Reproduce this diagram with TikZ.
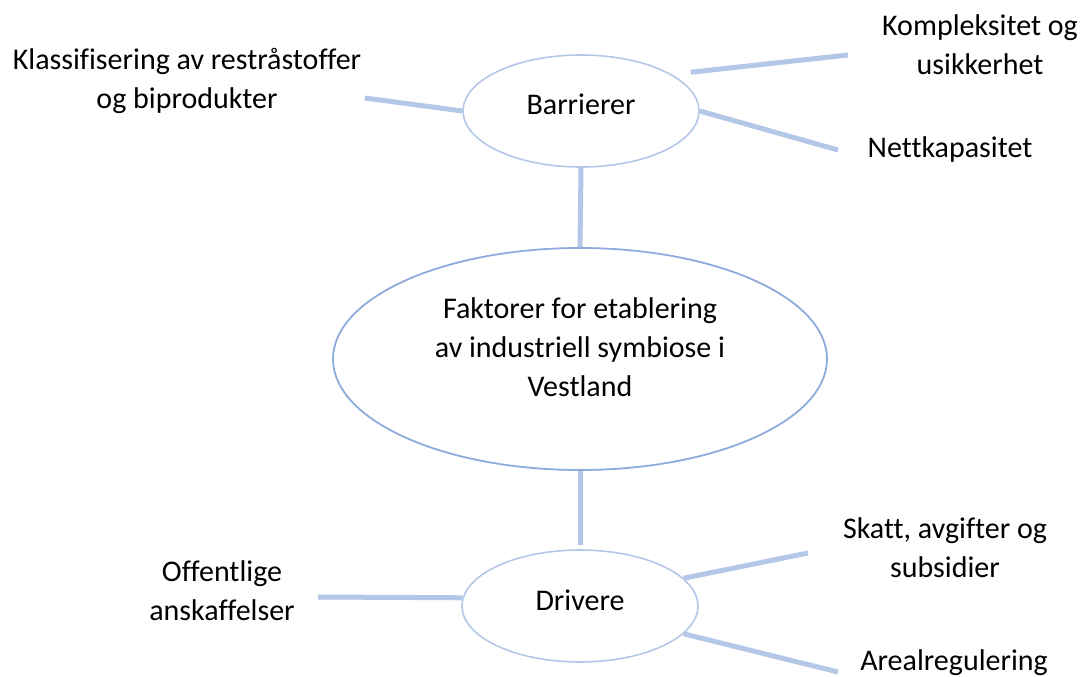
\documentclass[tikz,border=0pt]{standalone}
\usepackage{fontspec}
\setmainfont{Carlito}[Ligatures=NoCommon]
\usepackage{xcolor}
\usetikzlibrary{shapes.geometric}

\definecolor{lightblue}{HTML}{B4C7E7}
\definecolor{midblue}{HTML}{8FAADC}

\begin{document}
\begin{tikzpicture}[
 x=1pt, y=-1pt,
 every node/.style={font=\fontsize{30}{39}\selectfont},
 small_oval/.style={ellipse, draw=lightblue, line width=1.6pt,
   minimum width=236pt, minimum height=112pt, inner sep=0pt},
 big_oval/.style={ellipse, draw=midblue, line width=1.8pt,
   minimum width=494pt, minimum height=222pt, inner sep=0pt},
 label_text/.style={align=center, inner sep=0pt},
 link/.style={draw=lightblue, line width=5pt}
]
\useasboundingbox (0,0) rectangle (1084,677);

% ovals
\node[big_oval] (factors) at (580,359) {};
\node[small_oval] (barriers) at (581,111) {};
\node[small_oval] (drivers) at (580,606) {};
\node[label_text] (factors_text) at (580,347) {Faktorer for etablering\\av industriell symbiose i\\Vestland};
\node[label_text] (barriers_text) at (581,104) {Barrierer};
\node[label_text] (drivers_text) at (580,600) {Drivere};

% texts round the ovals
\node[label_text] (classify) at (187,81) {Klassifisering av restråstoffer\\og biprodukter};
\node[label_text] (complex) at (980,45) {Kompleksitet og\\usikkerhet};
\node[label_text] (grid) at (950,150) {Nettkapasitet};
\node[label_text] (procure) at (222,591) {Offentlige\\anskaffelser};
\node[label_text] (tax) at (945,548) {Skatt, avgifter og\\subsidier};
\node[label_text] (zoning) at (954,663) {Arealregulering};

% free ends of the links
\coordinate (classify_end) at (365,98);
\coordinate (complex_end) at (848,55);
\coordinate (grid_end) at (838,150);
\coordinate (procure_end) at (318,597);
\coordinate (tax_end) at (808,553);
\coordinate (zoning_end) at (838,672);

\draw[link] (barriers.south) -- (factors.north);
\draw[link] (factors.south) -- ([yshift=4pt]drivers.north);

\draw[link] (barriers.west) -- (classify_end);
\draw[link, shorten <=19pt] (barriers.22) -- (complex_end);
\draw[link] (barriers.east) -- (grid_end);

\draw[link] (drivers.176) -- (procure_end);
\draw[link] (drivers.15) -- (tax_end);
\draw[link] (drivers.-15) -- (zoning_end);
\end{tikzpicture}
\end{document}
